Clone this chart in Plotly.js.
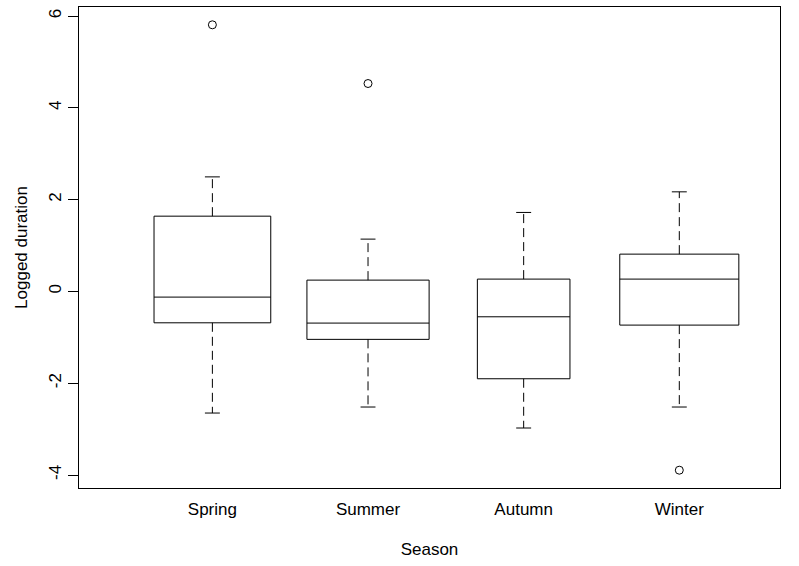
<!DOCTYPE html>
<html>
<head>
<meta charset="utf-8">
<script src="https://cdn.plot.ly/plotly-3.0.1.min.js"></script>
<style>html,body{margin:0;padding:0;background:#fff;}#chart{width:799px;height:566px;}</style>
</head>
<body>
<div id="chart"></div>
<script>
// ---- data ----
const seasons = ['Spring', 'Summer', 'Autumn', 'Winter'];
const q1 = [-0.684, -1.045, -1.903, -0.734];
const median = [-0.124, -0.690, -0.553, 0.268];
const q3 = [1.639, 0.246, 0.268, 0.812];
const lowerWhisker = [-2.650, -2.519, -2.976, -2.519];
const upperWhisker = [2.495, 1.139, 1.720, 2.169];
const outlierSeason = ['Spring', 'Summer', 'Winter'];
const outlierValue = [5.808, 4.529, -3.895];
const yTicks = [-4, -2, 0, 2, 4, 6];

// ---- styles ----
const boxWidths = [0.75, 0.785, 0.595, 0.765];
const stapleHalf = 0.048;
const FONT = 'Liberation Sans, Arial, sans-serif';

const pos = seasons.map((s, i) => i + 1);
const traces = [];

seasons.forEach((s, i) => {
  traces.push({
    type: 'box',
    x: [pos[i]],
    q1: [q1[i]], median: [median[i]], q3: [q3[i]],
    lowerfence: [q1[i]], upperfence: [q3[i]],
    width: boxWidths[i],
    boxpoints: false,
    fillcolor: '#ffffff',
    line: {color: '#000000', width: 1},
    whiskerwidth: 0,
    hoverinfo: 'skip',
    showlegend: false
  });
});

// dashed whiskers
const wx = [], wy = [];
seasons.forEach((s, i) => {
  wx.push(pos[i], pos[i], null, pos[i], pos[i], null);
  wy.push(q3[i], upperWhisker[i], null, q1[i], lowerWhisker[i], null);
});
traces.push({
  type: 'scatter', mode: 'lines', x: wx, y: wy,
  line: {color: '#000000', width: 1, dash: '9px,5px'},
  hoverinfo: 'skip', showlegend: false
});

// staples
const sx = [], sy = [];
seasons.forEach((s, i) => {
  sx.push(pos[i] - stapleHalf, pos[i] + stapleHalf, null, pos[i] - stapleHalf, pos[i] + stapleHalf, null);
  sy.push(upperWhisker[i], upperWhisker[i], null, lowerWhisker[i], lowerWhisker[i], null);
});
traces.push({
  type: 'scatter', mode: 'lines', x: sx, y: sy,
  line: {color: '#000000', width: 1},
  hoverinfo: 'skip', showlegend: false
});

// outliers
traces.push({
  type: 'scatter', mode: 'markers',
  x: outlierSeason.map(s => seasons.indexOf(s) + 1),
  y: outlierValue,
  marker: {symbol: 'circle-open', size: 8, color: '#000000', line: {width: 1, color: '#000000'}},
  hoverinfo: 'skip', showlegend: false
});

const layout = {
  width: 799, height: 566,
  margin: {l: 79, r: 19, t: 7, b: 78, pad: 0},
  paper_bgcolor: '#ffffff', plot_bgcolor: '#ffffff',
  font: {family: FONT, size: 17, color: '#000000'},
  showlegend: false,
  xaxis: {
    type: 'linear',
    range: [0.143, 4.647],
    tickmode: 'array', tickvals: pos, ticktext: seasons,
    ticks: 'outside', ticklen: 6, tickcolor: 'rgba(0,0,0,0)',
    showgrid: false, zeroline: false,
    showline: true, mirror: true, linecolor: '#000000', linewidth: 1,
    tickfont: {family: FONT, size: 17, color: '#000000'},
    title: {text: 'Season', font: {family: FONT, size: 17, color: '#000000'}, standoff: 24}
  },
  yaxis: {
    range: [-4.283, 6.196],
    tickmode: 'array', tickvals: yTicks, ticktext: yTicks.map(String),
    ticks: 'outside', ticklen: 10, tickwidth: 1, tickcolor: '#000000',
    tickangle: -90,
    showgrid: false, zeroline: false,
    showline: true, mirror: true, linecolor: '#000000', linewidth: 1,
    tickfont: {family: FONT, size: 17, color: '#000000'},
    title: {text: 'Logged duration', font: {family: FONT, size: 17, color: '#000000'}, standoff: 14}
  }
};

Plotly.newPlot('chart', traces, layout, {staticPlot: true, displayModeBar: false});
</script>
</body>
</html>
